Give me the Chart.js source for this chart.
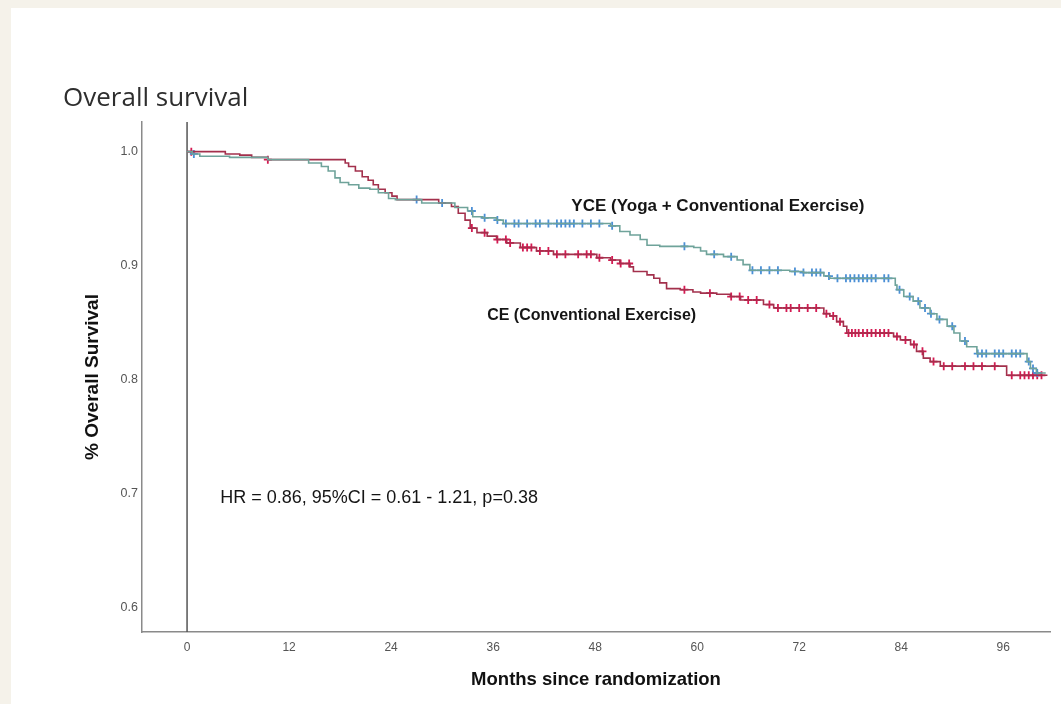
<!DOCTYPE html>
<html>
<head>
<meta charset="utf-8">
<script src="https://cdn.jsdelivr.net/npm/chart.js@4.4.0/dist/chart.umd.min.js"></script>
<style>
html, body { margin: 0; padding: 0; background: #f5f2ea; }
#panel { position: absolute; left: 11px; top: 8px; width: 1050px; height: 696px; background: #fff; }
</style>
</head>
<body>
<div id="panel"><canvas id="km" width="1050" height="696"></canvas></div>
<script>
// tick labels
var xTicks = [0, 12, 24, 36, 48, 60, 72, 84, 96];
var yTicks = [0.6, 0.7, 0.8, 0.9, 1.0];

// CE (Conventional Exercise) - step points: month of drop, survival after drop
var ceMonths = [0, 4.5, 6.2, 7.6, 9.5, 18.6, 19.0, 19.8, 20.6, 21.3, 21.9, 22.5, 23.3, 24.1, 24.7,
    29.6, 31.1, 31.9, 32.7, 33.3, 34.1, 35.3, 36.4, 37.6, 39.2, 41.1, 43.1, 48.2, 49.8, 50.9,
    52.1, 52.5, 54.1, 54.9, 55.6, 56.4, 58.0, 59.5, 60.4, 62.3, 63.9, 65.1, 67.8, 69.0, 74.9,
    75.6, 76.4, 77.2, 77.6, 83.1, 83.9, 85.1, 85.8, 86.6, 87.4, 88.6, 96.4, 101.2];
var ceSurv = [1.0, 0.998, 0.997, 0.995, 0.993, 0.990, 0.987, 0.983, 0.978, 0.975, 0.971, 0.967, 0.964, 0.961, 0.958,
    0.955, 0.952, 0.946, 0.940, 0.933, 0.929, 0.926, 0.923, 0.920, 0.916, 0.913, 0.910, 0.907, 0.905, 0.902,
    0.899, 0.895, 0.892, 0.889, 0.885, 0.880, 0.879, 0.877, 0.876, 0.875, 0.873, 0.870, 0.866, 0.863, 0.858,
    0.856, 0.851, 0.847, 0.841, 0.838, 0.835, 0.831, 0.825, 0.819, 0.816, 0.812, 0.804, 0.804];

// YCE (Yoga + Conventional Exercise)
var yceMonths = [0, 0.6, 1.5, 5.0, 9.5, 14.3, 15.8, 16.6, 17.4, 18.0, 19.0, 20.2, 21.5, 22.5, 23.7,
    24.5, 27.6, 31.5, 33.0, 33.6, 34.8, 36.4, 37.2, 49.8, 50.9, 52.1, 53.3, 54.1, 55.6, 59.6,
    60.4, 61.1, 63.1, 64.7, 65.4, 66.2, 70.9, 72.5, 74.9, 75.6, 83.3, 83.5, 84.3, 85.4, 86.2,
    87.4, 88.2, 89.4, 90.2, 90.9, 91.7, 92.9, 98.8, 99.2, 99.9, 101.0];
var yceSurv = [1.0, 0.998, 0.996, 0.995, 0.993, 0.990, 0.987, 0.983, 0.977, 0.973, 0.971, 0.968, 0.967, 0.964, 0.959,
    0.958, 0.955, 0.951, 0.948, 0.943, 0.942, 0.940, 0.937, 0.935, 0.930, 0.927, 0.923, 0.918, 0.917, 0.916,
    0.913, 0.910, 0.908, 0.905, 0.901, 0.896, 0.895, 0.894, 0.891, 0.889, 0.883, 0.879, 0.873, 0.869, 0.863,
    0.858, 0.853, 0.847, 0.841, 0.834, 0.829, 0.823, 0.816, 0.810, 0.806, 0.806];

// censored observations (months)
var ceCensored = [0.5, 9.5, 33.5, 35, 36.5, 37.5, 38, 39.5, 40, 40.5, 41.5, 42.5, 43.5, 44.5, 46, 47, 47.5,
    48.5, 50, 51, 52, 58.5, 61.5, 64, 65, 66, 67, 68.5, 69.5, 70.5, 71, 72, 73, 74, 75.2, 76, 76.8,
    77.8, 78.2, 78.6, 79, 79.5, 80, 80.5, 81, 81.5, 82, 82.5, 83.5, 84.5, 85.5, 86.5, 87.8, 89, 90,
    91.5, 92.5, 93.5, 95, 97, 98, 98.5, 99, 99.5, 100, 100.5];
var yceCensored = [0.8, 27, 30, 33.5, 35, 36.5, 37.5, 38.5, 39, 40, 41, 41.5, 42.5, 43.5, 44, 44.5, 45,
    45.5, 46.5, 47.5, 48.5, 50, 58.5, 62, 64, 66.5, 67.5, 68.5, 69.5, 71.5, 72.5, 73.5, 74, 74.5, 75.5,
    76.5, 77.5, 78, 78.5, 79, 79.5, 80, 80.5, 81, 82, 82.5, 83.8, 85, 86, 86.8, 87.5, 88.5, 90, 91.5,
    93, 93.5, 94, 95, 95.5, 96, 97, 97.5, 98, 99, 99.5, 100];

function toPoints(months, surv) {
    return months.map(function (m, i) { return { x: m, y: surv[i] }; });
}
function survAt(months, surv, t) {
    var s = surv[0];
    for (var i = 0; i < months.length; i++) {
        if (months[i] <= t) s = surv[i];
    }
    return s;
}
function censorPoints(times, months, surv) {
    return times.map(function (t) { return { x: t, y: survAt(months, surv, t) }; });
}

var tealLine = '#6fa39a';
var blueMark = '#4a8fd6';
var redLine = '#a3304c';
var redMark = '#d41a52';
var labelFont = '"Liberation Sans", Arial, sans-serif';

var kmExtras = {
    id: 'kmExtras',
    beforeDatasetsDraw: function (chart) {
        var ctx = chart.ctx, xs = chart.scales.x, a = chart.chartArea;
        var x0 = xs.getPixelForValue(0);
        ctx.save();
        ctx.strokeStyle = '#555';
        ctx.lineWidth = 1.5;
        ctx.beginPath();
        ctx.moveTo(x0, a.top);
        ctx.lineTo(x0, a.bottom);
        ctx.stroke();
        ctx.restore();
    },
    afterDatasetsDraw: function (chart) {
        var ctx = chart.ctx, xs = chart.scales.x, ys = chart.scales.y;
        var notes = [
            { text: 'YCE (Yoga + Conventional Exercise)', x: 45.2, y: 0.952, font: 'bold 17px ' + labelFont },
            { text: 'CE (Conventional Exercise)', x: 35.3, y: 0.856, font: 'bold 16px ' + labelFont },
            { text: 'HR = 0.86, 95%CI = 0.61 - 1.21, p=0.38', x: 3.9, y: 0.696, font: '18px ' + labelFont }
        ];
        ctx.save();
        ctx.fillStyle = '#151515';
        ctx.textAlign = 'left';
        ctx.textBaseline = 'middle';
        notes.forEach(function (n) {
            ctx.font = n.font;
            ctx.fillText(n.text, xs.getPixelForValue(n.x), ys.getPixelForValue(n.y));
        });
        ctx.restore();
    }
};

var ctx = document.getElementById('km').getContext('2d');
var kmChart = new Chart(ctx, {
    type: 'line',
    data: {
        datasets: [{
            label: 'YCE',
            data: toPoints(yceMonths, yceSurv),
            stepped: 'before',
            borderColor: tealLine,
            borderWidth: 1.6,
            pointRadius: 0,
            fill: false
        }, {
            label: 'CE',
            data: toPoints(ceMonths, ceSurv),
            stepped: 'before',
            borderColor: redLine,
            borderWidth: 1.6,
            pointRadius: 0,
            fill: false
        }, {
            label: 'YCE censored',
            data: censorPoints(yceCensored, yceMonths, yceSurv),
            showLine: false,
            pointStyle: 'cross',
            pointRadius: 4,
            pointBorderWidth: 1.8,
            borderColor: blueMark,
            backgroundColor: blueMark
        }, {
            label: 'CE censored',
            data: censorPoints(ceCensored, ceMonths, ceSurv),
            showLine: false,
            pointStyle: 'cross',
            pointRadius: 4,
            pointBorderWidth: 1.8,
            borderColor: redMark,
            backgroundColor: redMark
        }]
    },
    options: {
        responsive: false,
        animation: false,
        layout: { padding: { left: 52, right: 11, top: 0, bottom: 0 } },
        plugins: {
            legend: { display: false },
            tooltip: { enabled: false },
            title: {
                display: true,
                text: 'Overall survival',
                align: 'start',
                color: '#2e2e2e',
                font: { family: '"Open Sans", sans-serif', size: 26, weight: 'normal' },
                padding: { top: 75.4, bottom: 7.4 }
            }
        },
        scales: {
            x: {
                type: 'linear',
                min: -5.3,
                max: 101.5,
                afterBuildTicks: function (s) { s.ticks = xTicks.map(function (v) { return { value: v }; }); },
                afterFit: function (s) { s.height = 72; },
                grid: { display: false, drawTicks: false },
                border: { display: true, color: '#8a8a8a', width: 1.5 },
                ticks: {
                    autoSkip: false,
                    maxRotation: 0,
                    padding: 8,
                    color: '#555',
                    font: { family: labelFont, size: 12 }
                },
                title: {
                    display: true,
                    text: 'Months since randomization',
                    color: '#111',
                    font: { family: labelFont, size: 18.5, weight: 'bold' },
                    padding: { top: 0, bottom: 12.9 }
                }
            },
            y: {
                min: 0.579,
                max: 1.026,
                afterBuildTicks: function (s) { s.ticks = yTicks.map(function (v) { return { value: v }; }); },
                afterFit: function (s) { s.width = 79; },
                grid: { display: false, drawTicks: false },
                border: { display: true, color: '#8a8a8a', width: 1.5 },
                ticks: {
                    padding: 4,
                    color: '#555',
                    font: { family: labelFont, size: 12.5 },
                    callback: function (v) { return Number(v).toFixed(1); }
                },
                title: {
                    display: true,
                    text: '% Overall Survival',
                    color: '#111',
                    font: { family: labelFont, size: 19, weight: 'bold' },
                    padding: { top: 18.6, bottom: 0 }
                }
            }
        }
    },
    plugins: [kmExtras]
});
</script>
</body>
</html>
